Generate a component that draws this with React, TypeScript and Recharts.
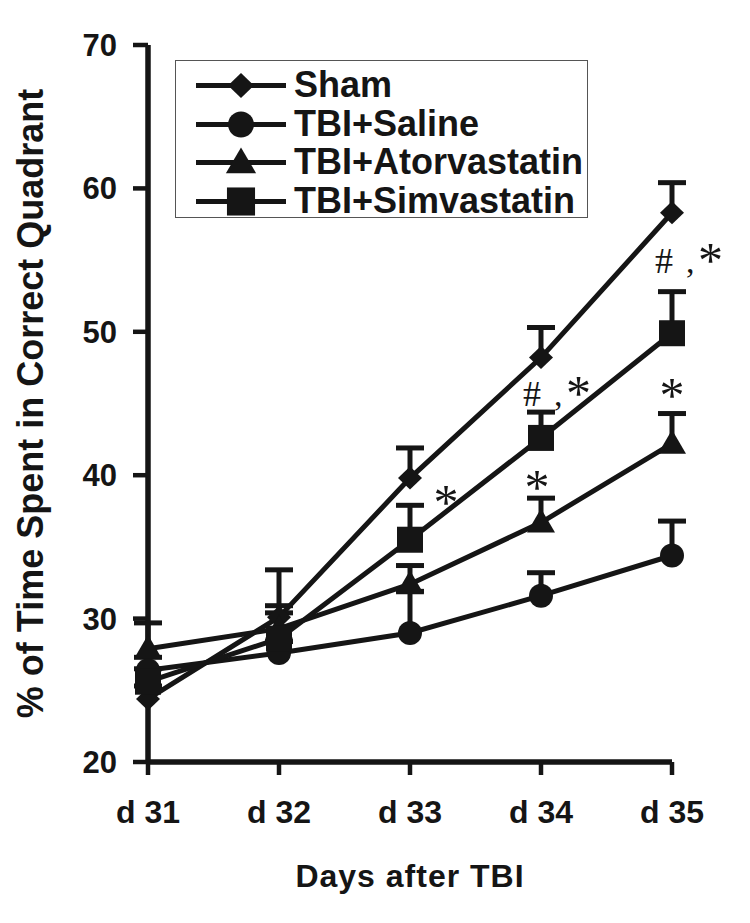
import React from 'react';
import { LineChart, Line, XAxis, YAxis, ErrorBar, Legend, ReferenceDot } from 'recharts';

// values (% time in correct quadrant, mean and upper SEM)
const days = ['d 31', 'd 32', 'd 33', 'd 34', 'd 35'];
const sham = [24.4, 30.1, 39.8, 48.2, 58.3];
const shamErr = [0.9, 3.3, 2.1, 2.1, 2.1];
const saline = [26.4, 27.6, 29.0, 31.6, 34.4];
const salineErr = [0.9, 0.8, 2.9, 1.6, 2.4];
const ator = [27.9, 29.3, 32.4, 36.7, 42.2];
const atorErr = [1.8, 1.1, 1.3, 1.7, 2.1];
const sim = [25.6, 28.6, 35.5, 42.6, 49.9];
const simErr = [0.9, 2.3, 2.4, 1.8, 2.9];
const yTicks = [20, 30, 40, 50, 60, 70];

// significance marks: which series / day, and the text
const marks = [
  { series: 'sim', day: 'd 33', text: '*' },
  { series: 'sim', day: 'd 34', text: '#,*' },
  { series: 'ator', day: 'd 34', text: '*' },
  { series: 'sim', day: 'd 35', text: '#,*' },
  { series: 'ator', day: 'd 35', text: '*' },
];
// label offsets from the top of the error bar (layout only)
const markOffsets = [
  [36, 11],
  [-18, -6],
  [-4, 3],
  [-17, -19],
  [0, -5],
];

const INK = '#151515';
const SANS = '"Liberation Sans", Arial, sans-serif';
const SERIF = '"Liberation Serif", "Times New Roman", serif';

const series = [
  { key: 'sham', name: 'Sham', shape: 'diamond', values: sham, errors: shamErr },
  { key: 'saline', name: 'TBI+Saline', shape: 'circle', values: saline, errors: salineErr },
  { key: 'ator', name: 'TBI+Atorvastatin', shape: 'triangle', values: ator, errors: atorErr },
  { key: 'sim', name: 'TBI+Simvastatin', shape: 'square', values: sim, errors: simErr },
];

const data = days.map((day, i) => {
  const row: any = { day };
  series.forEach((s) => {
    row[s.key] = s.values[i];
    row[s.key + 'Err'] = [0, s.errors[i]];
  });
  return row;
});

function Marker({ shape, cx, cy, s = 1 }: any) {
  if (cx == null || cy == null) return null;
  if (shape === 'diamond')
    return <path d={`M${cx},${cy - 11.5 * s}L${cx + 12 * s},${cy}L${cx},${cy + 11.5 * s}L${cx - 12 * s},${cy}Z`} fill={INK} />;
  if (shape === 'circle') return <circle cx={cx} cy={cy} r={12 * s} fill={INK} />;
  if (shape === 'triangle')
    return <path d={`M${cx},${cy - 14 * s}L${cx + 14 * s},${cy + 10 * s}L${cx - 14 * s},${cy + 10 * s}Z`} fill={INK} />;
  return <rect x={cx - 13 * s} y={cy - 13 * s} width={26 * s} height={26 * s} fill={INK} />;
}

const makeDot = (shape: string) => (props: any) => (
  <g key={`${shape}-${props.index}`}>
    <Marker shape={shape} cx={props.cx} cy={props.cy} />
  </g>
);

function MarkText({ cx, cy, text, off }: any) {
  const x = cx + off[0];
  const y = cy + off[1];
  if (text === '*') {
    return (
      <text x={x} y={y + 3} textAnchor="middle" fontFamily={SERIF} fontSize={50} fill={INK}>
        *
      </text>
    );
  }
  return (
    <text y={y} fontFamily={SERIF} fill={INK}>
      <tspan x={x} fontSize={36}>#</tspan>
      <tspan x={x + 31} fontSize={34}>,</tspan>
      <tspan x={x + 43} y={y + 4} fontSize={50}>*</tspan>
    </text>
  );
}

function renderLegend(props: any) {
  const present = new Set((props.payload || []).map((p: any) => p.dataKey));
  const rows = series.filter((s) => present.size === 0 || present.has(s.key));
  return (
    <div
      style={{
        border: '1.5px solid #555',
        boxSizing: 'border-box',
        width: 413,
        height: 158,
        paddingTop: 5,
        background: '#fff',
      }}
    >
      {rows.map((s) => (
        <div key={s.key} style={{ display: 'flex', alignItems: 'center', height: 38.5 }}>
          <svg width={118} height={38.5} style={{ flex: 'none' }}>
            <line x1={20} x2={110} y1={19.5} y2={19.5} stroke={INK} strokeWidth={5} />
            <Marker shape={s.shape} cx={65} cy={19.5} s={1.08} />
          </svg>
          <span
            style={{
              fontFamily: SANS,
              fontWeight: 'bold',
              fontSize: 36,
              lineHeight: '38.5px',
              color: INK,
              whiteSpace: 'nowrap',
            }}
          >
            {s.name}
          </span>
        </div>
      ))}
    </div>
  );
}

function YTitle({ viewBox }: any) {
  const x = viewBox.x - 38;
  const y = viewBox.y + viewBox.height / 2;
  return (
    <text
      x={x}
      y={y}
      transform={`rotate(-90, ${x}, ${y})`}
      textAnchor="middle"
      dominantBaseline="central"
      fontFamily={SANS}
      fontWeight="bold"
      fontSize={36}
      fill={INK}
    >
      % of Time Spent in Correct Quadrant
    </text>
  );
}

function XTitle({ viewBox }: any) {
  return (
    <text
      x={viewBox.x + viewBox.width / 2}
      y={viewBox.y + 125}
      textAnchor="middle"
      fontFamily={SANS}
      fontWeight="bold"
      fontSize={32}
      letterSpacing={1}
      fill={INK}
    >
      Days after TBI
    </text>
  );
}

export default function App() {
  return (
    <div style={{ width: 734, height: 907, background: '#fff', fontFamily: SANS }}>
      <style>{`.recharts-errorBar line:nth-of-type(3){display:none}`}</style>
      <LineChart width={734} height={907} data={data} margin={{ top: 37, right: 70, bottom: 33, left: 60 }}>
        <XAxis
          dataKey="day"
          axisLine={{ stroke: INK, strokeWidth: 5.5 }}
          tickLine={{ stroke: INK, strokeWidth: 4.5 }}
          tickSize={13}
          tickMargin={25}
          height={120}
          tick={{ fontSize: 32, fontWeight: 'bold', fill: INK, fontFamily: SANS }}
          label={<XTitle />}
        />
        <YAxis
          type="number"
          domain={[20, 70]}
          ticks={yTicks}
          width={80}
          axisLine={{ stroke: INK, strokeWidth: 5.5 }}
          tickLine={{ stroke: INK, strokeWidth: 4.5 }}
          tickSize={15}
          tickMargin={16}
          tick={{ fontSize: 31, fontWeight: 'bold', fill: INK, fontFamily: SANS }}
          label={<YTitle />}
        />
        <Legend
          layout="vertical"
          align="center"
          verticalAlign="middle"
          wrapperStyle={{ position: 'absolute', top: 52, left: 167, width: 413, height: 158 }}
          content={renderLegend}
        />
        {series.map((s) => (
          <Line
            key={s.key}
            dataKey={s.key}
            name={s.name}
            stroke={INK}
            strokeWidth={5}
            dot={makeDot(s.shape)}
            activeDot={false}
            isAnimationActive={false}
          >
            <ErrorBar dataKey={s.key + 'Err'} direction="y" width={14} strokeWidth={5} stroke={INK} />
          </Line>
        ))}
        {marks.map((m, i) => {
          const s = series.find((x) => x.key === m.series)!;
          const idx = days.indexOf(m.day);
          return (
            <ReferenceDot
              key={`mark-${i}`}
              x={m.day}
              y={s.values[idx] + s.errors[idx]}
              r={0}
              shape={(p: any) => <MarkText cx={p.cx} cy={p.cy} text={m.text} off={markOffsets[i]} />}
            />
          );
        })}
      </LineChart>
    </div>
  );
}
